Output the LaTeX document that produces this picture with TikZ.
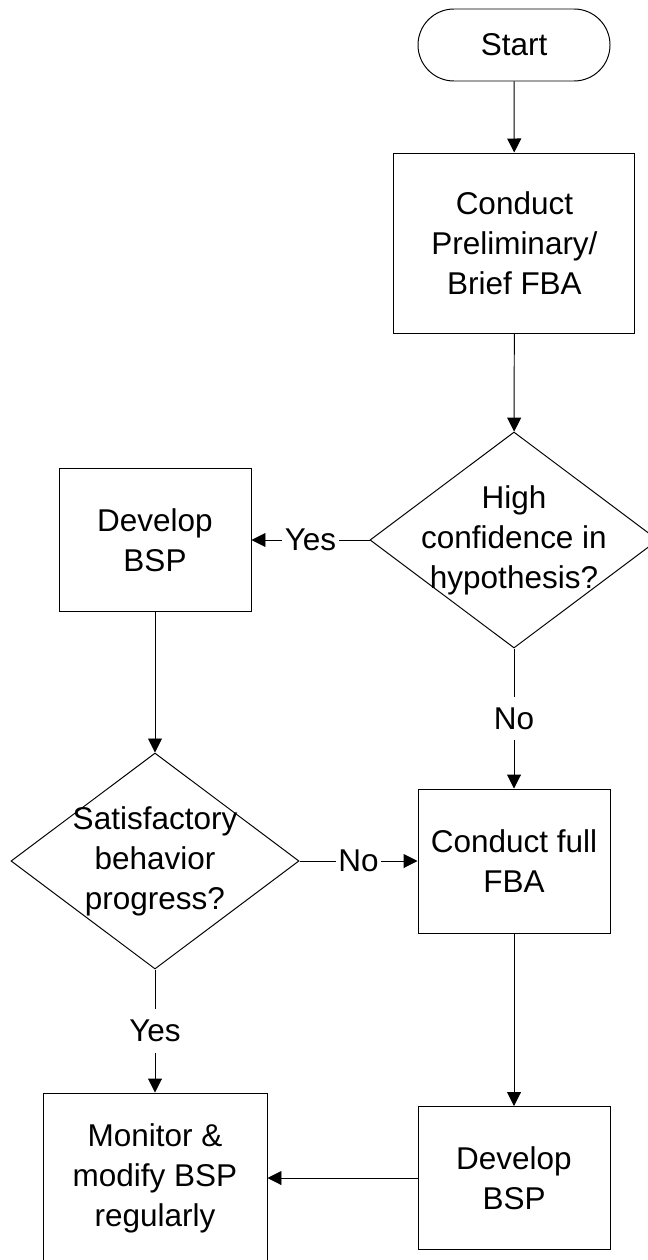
\documentclass[tikz,border=0pt]{standalone}
\usepackage{fontspec}
\setmainfont{Liberation Sans}
\usepackage{tikz}
\usetikzlibrary{shapes.geometric}
\usetikzlibrary{arrows.meta}

\begin{document}
\begin{tikzpicture}[
    every node/.style={font=\fontsize{22.4}{28.45}\selectfont, align=center},
    terminal/.style={draw, line width=0.7pt, rounded corners=0.9cm, minimum width=4.8cm, minimum height=1.8cm, inner sep=0pt},
    procbox/.style={draw, line width=0.7pt, minimum width=4.8cm, minimum height=3.575cm, inner sep=0pt},
    decision/.style={draw, diamond, line width=0.7pt, minimum width=7.2cm, minimum height=5.4cm, inner sep=0pt},
    flow/.style={line width=0.7pt, -{Triangle[length=0.35cm,width=0.35cm]}},
    answer/.style={fill=white, inner xsep=0.06cm, inner ysep=0pt, minimum height=1.08cm}
]
% page frame, the bottom box runs off the edge
\path[use as bounding box, clip] (0,0) rectangle (16.2,-31.5);

% Start and brief assessment
\node[terminal] (start) at (12.85,-1.125) {Start};
\node[procbox, minimum width=6.025cm, minimum height=4.5cm] (prelim) at (12.86,-6.075) {Conduct\\Preliminary/\\Brief FBA};

% First decision
\node[decision] (confid) at (12.85,-13.5) {};
\node (confidtxt) at (confid.center) {High\\confidence in\\hypothesis?};
\node[procbox] (devA) at (3.875,-13.5) {Develop\\BSP};

% Second decision and full assessment
\node[decision] (satisf) at (3.875,-21.525) {};
\node (satisftxt) at (satisf.center) {Satisfactory\\behavior\\progress?};
\node[procbox, minimum height=3.6cm] (fullfba) at (12.85,-21.525) {Conduct full\\FBA};

% Bottom row
\node[procbox] (devB) at (12.85,-29.45) {Develop\\BSP};
\node[procbox, minimum width=5.6cm, minimum height=4.25cm] (monitor) at (3.875,-29.45) {Monitor \&\\modify BSP\\regularly};

% Connectors
\draw[flow] (start) -- (prelim);
\draw[flow] (prelim) -- (confid);
\draw[flow] (confid) -- node[answer] {Yes} (devA);
\draw[flow] (confid) -- node[answer] {No} (fullfba);
\draw[flow] (devA) -- (satisf);
\draw[flow] (satisf) -- node[answer] {No} (fullfba);
\draw[flow] (satisf) -- node[answer] {Yes} (monitor);
\draw[flow] (fullfba) -- (devB);
\draw[flow] (devB) -- (monitor);
\end{tikzpicture}
\end{document}
